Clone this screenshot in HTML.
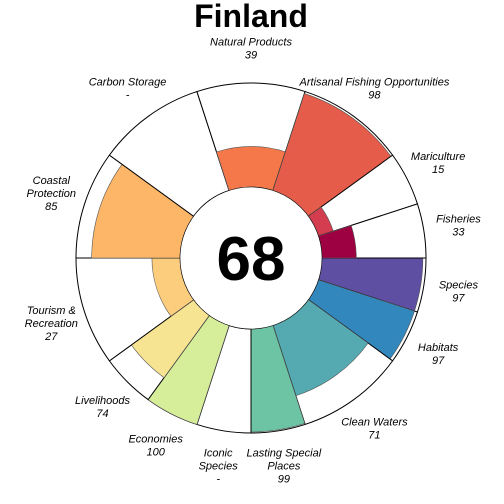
<!DOCTYPE html>
<html><head><meta charset="utf-8"><style>
html,body{margin:0;padding:0;background:#fff;}
svg{display:block;font-family:"Liberation Sans",sans-serif;}
</style></head><body>
<svg id="chart" width="504" height="504" viewBox="0 0 504 504"></svg>
<script>
const goals = ["Species","Habitats","Clean Waters","Lasting Special\nPlaces","Iconic\nSpecies","Economies","Livelihoods","Tourism &\nRecreation","Coastal\nProtection","Carbon Storage","Natural Products","Artisanal Fishing Opportunities","Mariculture","Fisheries"];
const scores = [97,97,71,99,null,100,74,27,85,null,39,98,15,33];
const weights = [0.5,0.5,1,0.5,0.5,0.5,0.5,1,1,1,1,1,0.5,0.5];
const colors = ["#5E4FA2","#3288BD","#54AAB0","#6CC4A4","#A8DCA3","#D6ED9A","#F7E493","#FDCD7E","#FDB668","#FB9A58","#F5784A","#E55C4A","#D43D4F","#9E0142"];
const overall = 68;
const title = "Finland";

const svg = document.getElementById('chart');
const NS = "http://www.w3.org/2000/svg";
const cx = 251, cy = 258, rIn = 71, rOut = 175, rLab = 210;
function rScale(v){ return rIn + (rOut - rIn) * v / 100; }
function pt(r, a){ const t = a * Math.PI / 180; return [cx + r * Math.sin(t), cy - r * Math.cos(t)]; }
function wedge(r0, r1, a0, a1){
  const p1 = pt(r1, a0), p2 = pt(r1, a1), p3 = pt(r0, a1), p4 = pt(r0, a0);
  return `M${p1[0]},${p1[1]} A${r1},${r1} 0 0 1 ${p2[0]},${p2[1]} L${p3[0]},${p3[1]} A${r0},${r0} 0 0 0 ${p4[0]},${p4[1]} Z`;
}
const totalW = weights.reduce((a, b) => a + b, 0);
let ang = 90;
goals.forEach((g, i) => {
  const span = 360 * weights[i] / totalW;
  const a0 = ang, a1 = ang + span;
  const bg = document.createElementNS(NS, 'path');
  bg.setAttribute('d', wedge(rIn, rOut, a0, a1));
  bg.setAttribute('fill', '#fff'); bg.setAttribute('stroke', '#000'); bg.setAttribute('stroke-width', '1');
  
  
  svg.appendChild(bg);
  if (scores[i] !== null) {
    const p = document.createElementNS(NS, 'path');
    p.setAttribute('d', wedge(rIn, rScale(scores[i]), a0, a1));
    p.setAttribute('fill', colors[i]); p.setAttribute('stroke', '#555'); p.setAttribute('stroke-width', '0.6');
    
    
    svg.appendChild(p);
  }
  const mid = (a0 + a1) / 2;
  const lp = pt(rLab, mid);
  const lines = g.split("\n").concat([scores[i] === null ? "-" : String(scores[i])]);
  const t = document.createElementNS(NS, 'text');
  t.setAttribute('text-anchor', 'middle'); t.setAttribute('font-size', '11'); t.setAttribute('font-style', 'italic');
  t.setAttribute('fill', '#000');
  
  
  const y0 = lp[1] - (lines.length - 1) * 13 / 2 + 4;
  lines.forEach((ln, k) => {
    const ts = document.createElementNS(NS, 'tspan');
    ts.setAttribute('x', lp[0]); ts.setAttribute('y', y0 + k * 13);
    ts.textContent = ln; t.appendChild(ts);
  });
  svg.appendChild(t);
  ang = a1;
});
const c = document.createElementNS(NS, 'circle');
c.setAttribute('cx', cx); c.setAttribute('cy', cy); c.setAttribute('r', rIn);
c.setAttribute('fill', '#fff'); c.setAttribute('stroke', '#000'); c.setAttribute('stroke-width', '0.6');


svg.appendChild(c);
const sc = document.createElementNS(NS, 'text');
sc.setAttribute('x', cx); sc.setAttribute('y', cy + 22); sc.setAttribute('text-anchor', 'middle');
sc.setAttribute('font-size', '62'); sc.setAttribute('font-weight', 'bold');
sc.textContent = overall;


svg.appendChild(sc);
const ti = document.createElementNS(NS, 'text');
ti.setAttribute('x', 251); ti.setAttribute('y', 27); ti.setAttribute('text-anchor', 'middle');
ti.setAttribute('font-size', '32'); ti.setAttribute('font-weight', 'bold');
ti.textContent = title;


svg.appendChild(ti);
</script>
</body></html>
